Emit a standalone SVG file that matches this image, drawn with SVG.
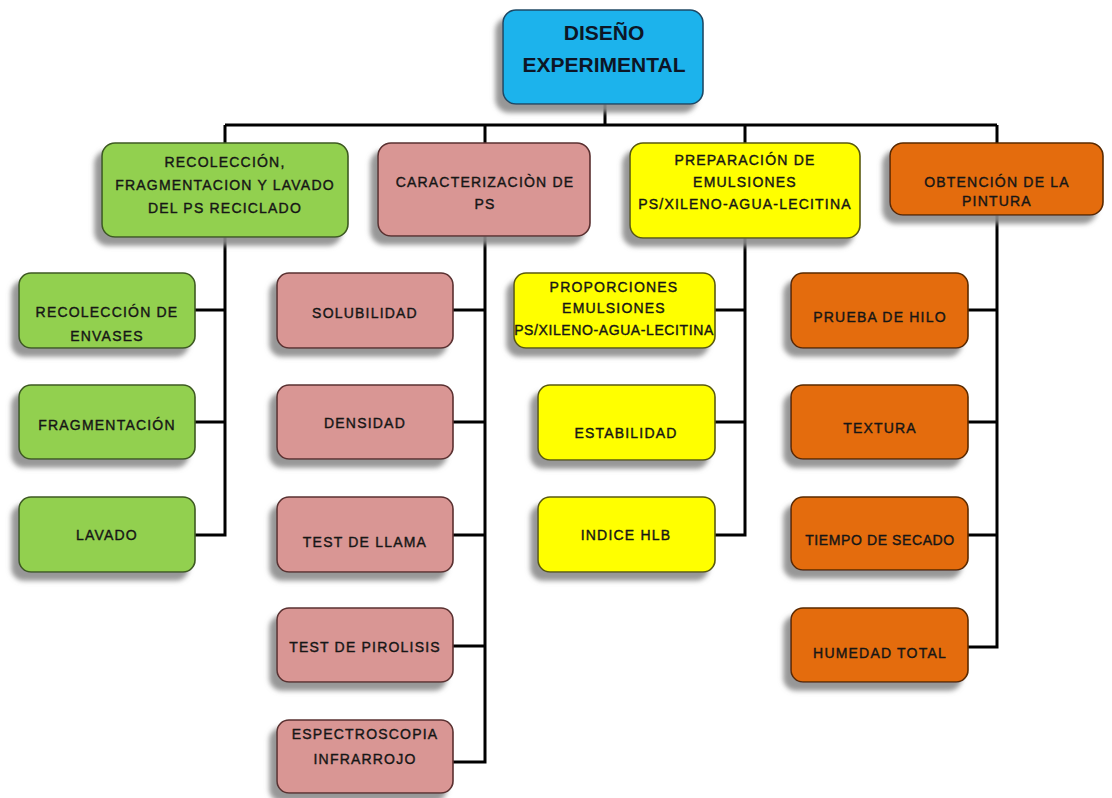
<svg xmlns="http://www.w3.org/2000/svg" width="1112" height="798" viewBox="0 0 1112 798">
<defs>
<filter id="sh" x="-20%" y="-20%" width="140%" height="150%">
<feGaussianBlur in="SourceAlpha" stdDeviation="2.5"/>
<feOffset dx="-7" dy="8" result="b"/>
<feFlood flood-color="#8c8c8c" flood-opacity="0.9"/>
<feComposite in2="b" operator="in"/>
<feMerge><feMergeNode/><feMergeNode in="SourceGraphic"/></feMerge>
</filter>
<style>
.box{stroke-width:1.6;filter:url(#sh)}
.blue{fill:#1fb3ec;stroke:#1f4a66}
.green{fill:#92d050;stroke:#3e5a22}
.pink{fill:#d99694;stroke:#5a3030}
.yellow{fill:#ffff00;stroke:#5a5a10}
.orange{fill:#e46c0a;stroke:#5a2a05}
text{font-family:"Liberation Sans",Arial,sans-serif;font-size:14px;letter-spacing:1.2px;fill:#161616;text-anchor:middle;stroke:#161616;stroke-width:0.4}
.root{font-size:21px;font-weight:bold;letter-spacing:0;stroke:none;fill:#0d1626}
.con{fill:none;stroke:#000;stroke-width:3}
</style>
</defs>
<rect width="1112" height="798" fill="#ffffff"/>
<g id="connectors">
<path class="con" d="M605 103V125M225 125H997M225 125V143M485 125V143M745 125V143M997 125V143"/>
<path class="con" d="M225 237V535H195M195 310H225M195 422H225"/>
<path class="con" d="M485 236V762H453M453 310H485M453 422H485M453 535H485M453 646H485"/>
<path class="con" d="M745 238V535H715M715 310H745M715 422H745"/>
<path class="con" d="M997 215V647H968M968 310H997M968 422H997M968 535H997"/>
</g>
<g id="root"><rect class="box blue" x="503" y="10" width="200" height="94" rx="13"/>
<text class="root" x="604" y="40">DISEÑO</text><text class="root" x="604" y="72">EXPERIMENTAL</text></g>
<g id="n-recoleccion"><rect class="box green" x="102" y="143" width="246" height="94" rx="13"/>
<text x="225" y="167">RECOLECCIÓN,</text><text x="225" y="190">FRAGMENTACION Y LAVADO</text><text x="225" y="213">DEL PS RECICLADO</text></g>
<g id="n-caracterizacion"><rect class="box pink" x="378" y="143" width="212" height="93" rx="13"/>
<text x="485" y="187">CARACTERIZACIÒN DE</text><text x="485" y="209">PS</text></g>
<g id="n-preparacion"><rect class="box yellow" x="630" y="143" width="230" height="95" rx="13"/>
<text x="745" y="165">PREPARACIÓN DE</text><text x="745" y="187">EMULSIONES</text><text x="745" y="209">PS/XILENO-AGUA-LECITINA</text></g>
<g id="n-obtencion"><rect class="box orange" x="890" y="143" width="213" height="72" rx="13"/>
<text x="997" y="187">OBTENCIÓN DE LA</text><text x="997" y="206">PINTURA</text></g>
<g id="g-envases"><rect class="box green" x="19" y="273" width="176" height="75" rx="12"/>
<text x="107" y="317">RECOLECCIÓN DE</text><text x="107" y="341">ENVASES</text></g>
<g id="g-fragmentacion"><rect class="box green" x="19" y="385" width="176" height="74" rx="12"/>
<text x="107" y="430">FRAGMENTACIÓN</text></g>
<g id="g-lavado"><rect class="box green" x="19" y="497" width="176" height="75" rx="12"/>
<text x="107" y="540">LAVADO</text></g>
<g id="p-solubilidad"><rect class="box pink" x="277" y="273" width="176" height="75" rx="12"/>
<text x="365" y="318">SOLUBILIDAD</text></g>
<g id="p-densidad"><rect class="box pink" x="277" y="385" width="176" height="74" rx="12"/>
<text x="365" y="428">DENSIDAD</text></g>
<g id="p-llama"><rect class="box pink" x="277" y="497" width="176" height="75" rx="12"/>
<text x="365" y="547">TEST DE LLAMA</text></g>
<g id="p-pirolisis"><rect class="box pink" x="277" y="608" width="176" height="74" rx="12"/>
<text x="365" y="652">TEST DE PIROLISIS</text></g>
<g id="p-espectroscopia"><rect class="box pink" x="277" y="720" width="176" height="73" rx="12"/>
<text x="365" y="739">ESPECTROSCOPIA</text><text x="365" y="764">INFRARROJO</text></g>
<g id="y-proporciones"><rect class="box yellow" x="514" y="273" width="201" height="75" rx="12"/>
<text x="614" y="292">PROPORCIONES</text><text x="614" y="313">EMULSIONES</text><text x="614" y="335" style="letter-spacing:0.6px">PS/XILENO-AGUA-LECITINA</text></g>
<g id="y-estabilidad"><rect class="box yellow" x="538" y="385" width="177" height="75" rx="12"/>
<text x="626" y="438">ESTABILIDAD</text></g>
<g id="y-hlb"><rect class="box yellow" x="538" y="497" width="177" height="75" rx="12"/>
<text x="626" y="540">INDICE HLB</text></g>
<g id="o-hilo"><rect class="box orange" x="791" y="273" width="177" height="75" rx="12"/>
<text x="880" y="322">PRUEBA DE HILO</text></g>
<g id="o-textura"><rect class="box orange" x="791" y="385" width="177" height="74" rx="12"/>
<text x="880" y="433">TEXTURA</text></g>
<g id="o-secado"><rect class="box orange" x="791" y="497" width="177" height="73" rx="12"/>
<text x="880" y="545" style="letter-spacing:0.6px">TIEMPO DE SECADO</text></g>
<g id="o-humedad"><rect class="box orange" x="791" y="608" width="177" height="74" rx="12"/>
<text x="880" y="658">HUMEDAD TOTAL</text></g>
</svg>
